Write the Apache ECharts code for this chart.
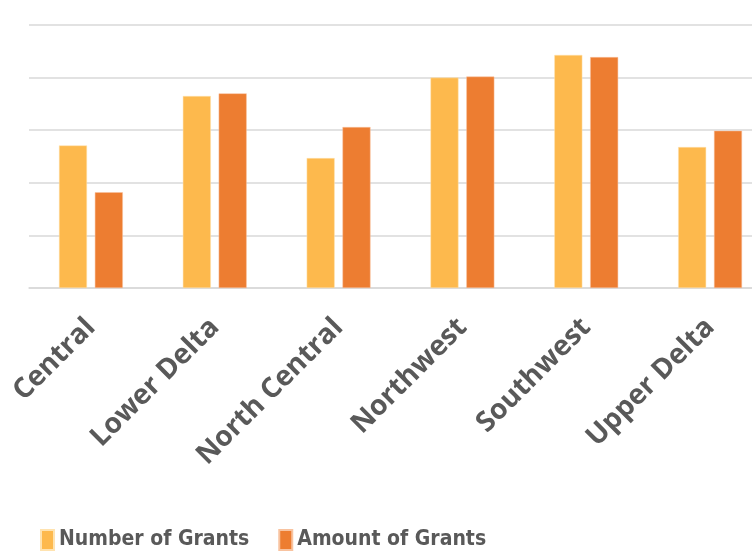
<!DOCTYPE html>
<html>
<head>
<meta charset="utf-8">
<script src="https://cdn.jsdelivr.net/npm/echarts@6/dist/echarts.min.js"></script>
<style>html,body{margin:0;padding:0;background:#fff;overflow:hidden;width:752px;height:552px}#c{width:772px;height:552px}</style>
</head>
<body>
<div id="c"></div>
<script>
const categories = ['Central', 'Lower Delta', 'North Central', 'Northwest', 'Southwest', 'Upper Delta'];
const numberOfGrants = [2.71, 3.65, 2.47, 4.00, 4.43, 2.68];
const amountOfGrants = [1.82, 3.70, 3.06, 4.02, 4.39, 2.99];
const seriesNames = ['Number of Grants', 'Amount of Grants'];

const chart = echarts.init(document.getElementById('c'), null, {renderer: 'canvas'});
chart.setOption({
  animation: false,
  backgroundColor: '#ffffff',
  textStyle: {fontFamily: 'Open Sans'},
  grid: {left: 29, right: 0, top: 25, bottom: 264, containLabel: false},
  legend: {
    left: 35, top: 524,
    itemWidth: 13, itemHeight: 20, itemGap: 29,
    icon: 'rect',
    textStyle: {fontFamily: "'DejaVu Sans Condensed', 'DejaVu Sans', sans-serif", fontWeight: 'bold', fontSize: 21, color: '#595959'},
    data: seriesNames
  },
  xAxis: {
    type: 'category',
    data: categories,
    axisLine: {show: true, lineStyle: {color: '#D9D9D9', width: 1.5}},
    axisTick: {show: false},
    axisLabel: {
      rotate: 45, margin: 35, interval: 0,
      fontFamily: 'Open Sans', fontWeight: 'bold', fontSize: 28, color: '#595959'
    }
  },
  yAxis: {
    type: 'value', min: 0, max: 5, interval: 1,
    axisLabel: {show: false},
    axisLine: {show: false},
    axisTick: {show: false},
    splitLine: {lineStyle: {color: '#D9D9D9', width: 1.5}}
  },
  series: [
    {name: seriesNames[0], type: 'bar', data: numberOfGrants, barWidth: 28, barGap: '28%',
     itemStyle: {color: '#FDB94D', borderColor: '#FFE3B0', borderWidth: 0.5}},
    {name: seriesNames[1], type: 'bar', data: amountOfGrants, barWidth: 28, barGap: '28%',
     itemStyle: {color: '#ED7D31', borderColor: '#F8C3A0', borderWidth: 0.5}}
  ]
});
</script>
</body>
</html>
